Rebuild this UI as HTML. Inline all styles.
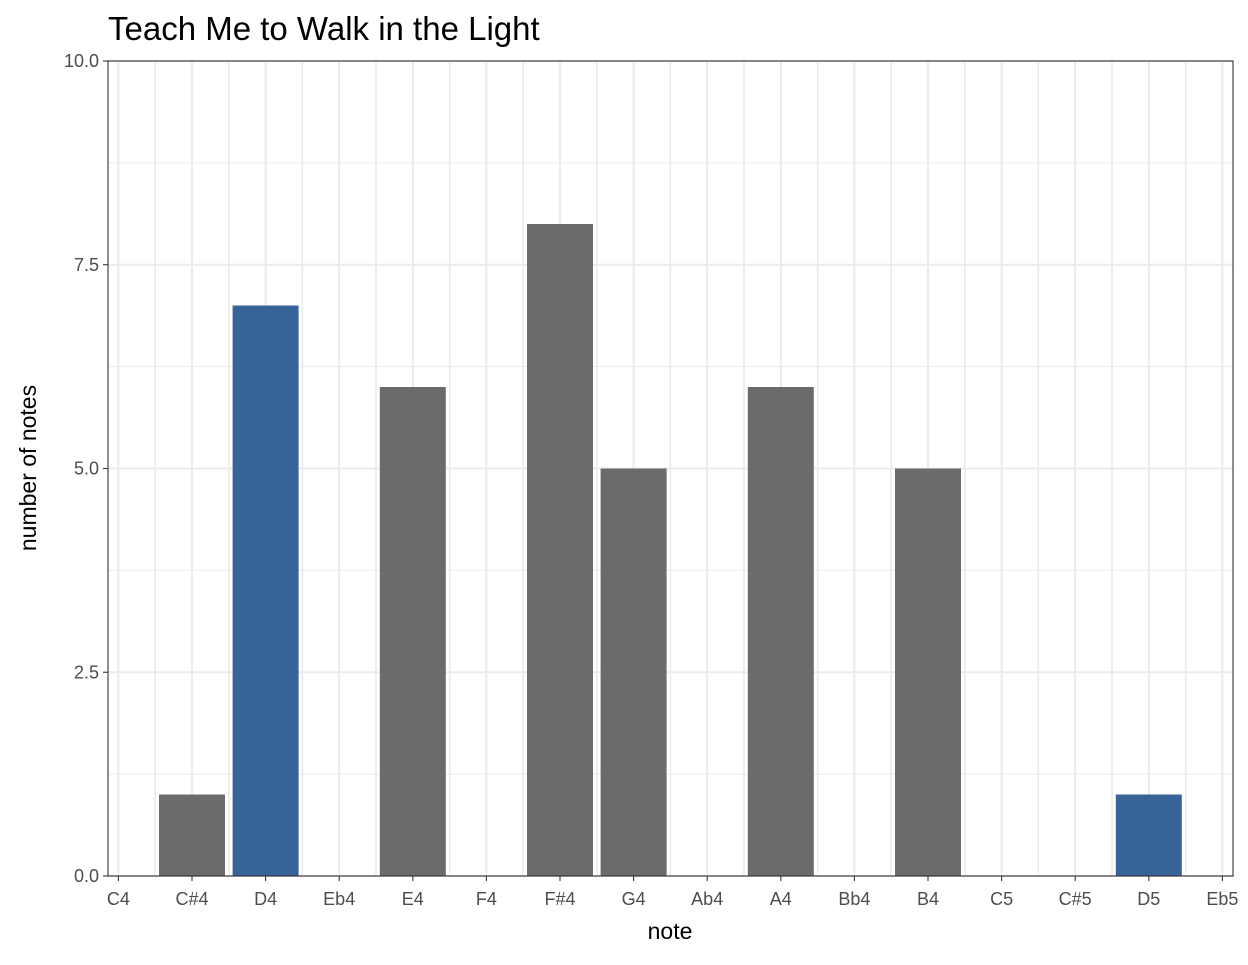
<!DOCTYPE html>
<html><head><meta charset="utf-8"><style>
body{margin:0;background:#fff;}
text{font-family:"Liberation Sans",Arial,sans-serif;}
</style></head><body>
<svg id="chart" width="1248" height="960">
<text x="108" y="40" font-size="33" fill="#000">Teach Me to Walk in the Light</text>
<g id="grid"></g><g id="bars"></g><g id="axes"></g>
<rect x="108" y="61" width="1125" height="815" fill="none" stroke="#333" stroke-width="1.1"/>
<text x="670" y="939" font-size="23" text-anchor="middle" fill="#000">note</text>
<text transform="translate(36,468) rotate(-90)" font-size="23" text-anchor="middle" fill="#000">number of notes</text>
</svg>
<script>
const categories=["C4","C#4","D4","Eb4","E4","F4","F#4","G4","Ab4","A4","Bb4","B4","C5","C#5","D5","Eb5"];
const counts=[0,1,7,0,6,0,8,5,0,6,0,5,0,0,1,0];
const highlight=[0,0,1,0,0,0,0,0,0,0,0,0,0,0,1,0];
const yTicks=[0,2.5,5,7.5,10];
const yTickLabels=["0.0","2.5","5.0","7.5","10.0"];
const NS="http://www.w3.org/2000/svg";
const step=73.6,x0=192-step;
const xs=i=>x0+i*step;
const ys=v=>876-v*81.5;
function mk(tag,attrs,parent){const e=document.createElementNS(NS,tag);for(const k in attrs)e.setAttribute(k,attrs[k]);document.getElementById(parent).appendChild(e);return e;}
for(let v=0;v<=10;v+=1.25){const major=(v%2.5===0);
 const l=mk('line',{x1:108,x2:1233,y1:ys(v),y2:ys(v),stroke:'#ebebeb','stroke-width':major?2:1},'grid');
 
 }
for(let i=-0.5;i<=15.5;i+=0.5){const x=xs(i);if(x<108||x>1233)continue;
 const l=mk('line',{x1:x,x2:x,y1:61,y2:876,stroke:'#ebebeb','stroke-width':Number.isInteger(i)?2:1.6},'grid');
 
 }
const bw=66;
counts.forEach((c,i)=>{if(c<=0)return;
 const r=mk('rect',{x:xs(i)-bw/2,y:ys(c),width:bw,height:ys(0)-ys(c),fill:highlight[i]?'#386398':'#6b6b6b'},'bars');
 
 });
yTicks.forEach((v,k)=>{mk('line',{x1:103,x2:108,y1:ys(v),y2:ys(v),stroke:'#333','stroke-width':1.1},'axes');
 const t=mk('text',{x:99,y:ys(v)+6,'font-size':18,'text-anchor':'end',fill:'#4d4d4d'},'axes');t.textContent=yTickLabels[k];
 
 });
categories.forEach((c,i)=>{mk('line',{x1:xs(i),x2:xs(i),y1:876,y2:881,stroke:'#333','stroke-width':1.1},'axes');
 const t=mk('text',{x:xs(i),y:905,'font-size':18,'text-anchor':'middle',fill:'#4d4d4d'},'axes');t.textContent=c;
 
 });
</script>
</body></html>
